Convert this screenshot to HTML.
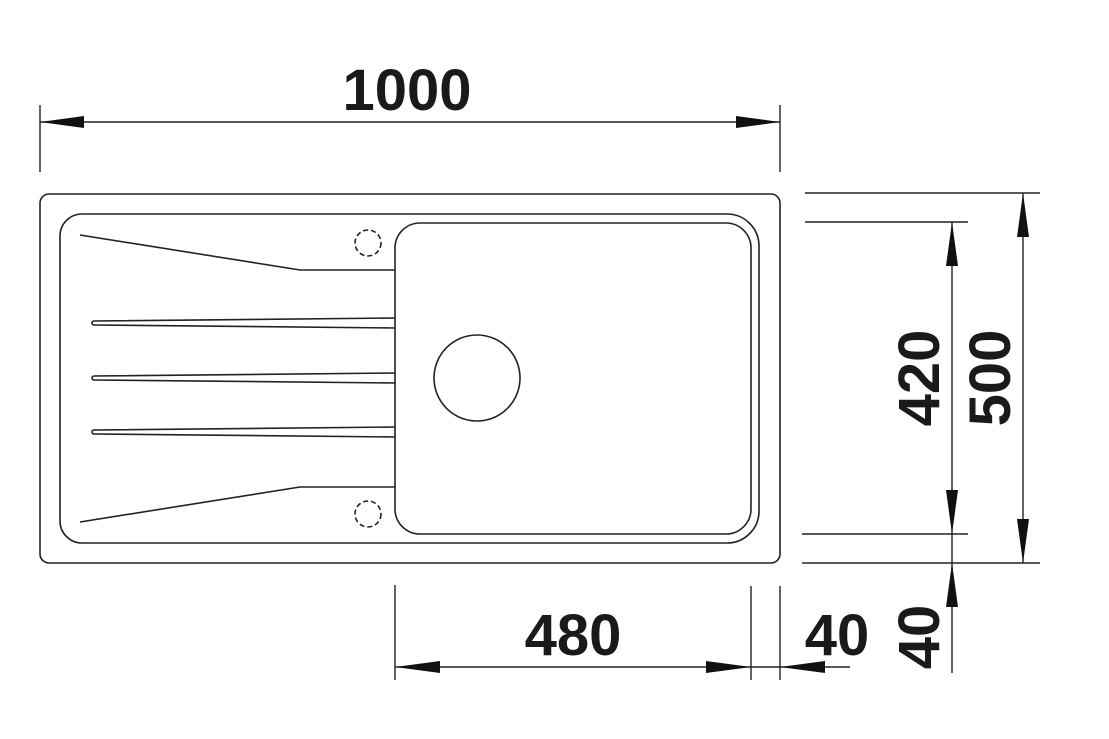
<!DOCTYPE html>
<html><head><meta charset="utf-8"><style>
html,body{margin:0;padding:0;background:#fff;}
svg{display:block;}
text{font-family:"Liberation Sans",Arial,sans-serif;font-weight:bold;fill:#1a1a1a;}
</style></head><body>
<svg width="1109" height="739" viewBox="0 0 1109 739" xmlns="http://www.w3.org/2000/svg">
<g fill="none" stroke="#222" stroke-width="1.6">
  <!-- outer -->
  <rect x="40" y="194" width="740" height="369" rx="9"/>
  <!-- drainer / bowl outer -->
  <path d="M82,214 H727 A32,32 0 0 1 759,246 V511 A32,32 0 0 1 727,543 H82 A22,22 0 0 1 60,521 V236 A22,22 0 0 1 82,214 Z"/>
  <!-- bowl -->
  <rect x="395" y="223" width="356" height="311" rx="25"/>
  <!-- drain -->
  <circle cx="477" cy="378" r="43"/>
  <!-- dashed holes -->
  <circle cx="368" cy="243" r="13" stroke-dasharray="5,3"/>
  <circle cx="368" cy="514" r="13" stroke-dasharray="5,3"/>
  <!-- slopes -->
  <polyline points="80,235 300,270 395,270"/>
  <polyline points="80,522 300,487 395,487"/>
  <!-- grooves -->
  <path d="M395,318 L94,321 A2,2 0 0 0 94,325 L395,328"/>
  <path d="M395,373 L94,376 A2,2 0 0 0 94,380 L395,383"/>
  <path d="M395,427 L94,430 A2,2 0 0 0 94,434 L395,437"/>
</g>
<g stroke="#222" stroke-width="1.4" fill="none">
  <!-- top dimension -->
  <line x1="40" y1="105" x2="40" y2="172"/>
  <line x1="780" y1="105" x2="780" y2="172"/>
  <line x1="40" y1="122" x2="780" y2="122"/>
  <!-- right extension lines -->
  <line x1="805" y1="193" x2="1040" y2="193"/>
  <line x1="805" y1="222" x2="968" y2="222"/>
  <line x1="802" y1="534" x2="968" y2="534"/>
  <line x1="802" y1="563" x2="1040" y2="563"/>
  <line x1="952" y1="222" x2="952" y2="673"/>
  <line x1="1023" y1="193" x2="1023" y2="563"/>
  <!-- bottom -->
  <line x1="395" y1="585" x2="395" y2="680"/>
  <line x1="751" y1="586" x2="751" y2="680"/>
  <line x1="780" y1="586" x2="780" y2="680"/>
  <line x1="395" y1="667" x2="780" y2="667"/>
  <line x1="780" y1="667" x2="850" y2="667"/>
</g>
<g fill="#111">
  <!-- top arrows -->
  <polygon points="40,122 84,116 84,128"/>
  <polygon points="780,122 736,116 736,128"/>
  <!-- 420 arrows -->
  <polygon points="952,222 946,266 958,266"/>
  <polygon points="952,534 946,490 958,490"/>
  <!-- 500 arrows -->
  <polygon points="1023,193 1017,237 1029,237"/>
  <polygon points="1023,563 1017,519 1029,519"/>
  <!-- 40 vertical arrow -->
  <polygon points="952,563 946,607 958,607"/>
  <!-- bottom arrows -->
  <polygon points="395,667 440,661 440,673"/>
  <polygon points="751,667 706,661 706,673"/>
  <polygon points="780,667 825,661 825,673"/>
</g>
<text x="407" y="110" font-size="58" text-anchor="middle">1000</text>
<text x="573" y="655" font-size="58" text-anchor="middle">480</text>
<text x="837" y="655" font-size="58" text-anchor="middle">40</text>
<text transform="translate(939,378) rotate(-90)" font-size="58" text-anchor="middle">420</text>
<text transform="translate(1010,378) rotate(-90)" font-size="58" text-anchor="middle">500</text>
<text transform="translate(939,637) rotate(-90)" font-size="58" text-anchor="middle">40</text>
</svg>
</body></html>
